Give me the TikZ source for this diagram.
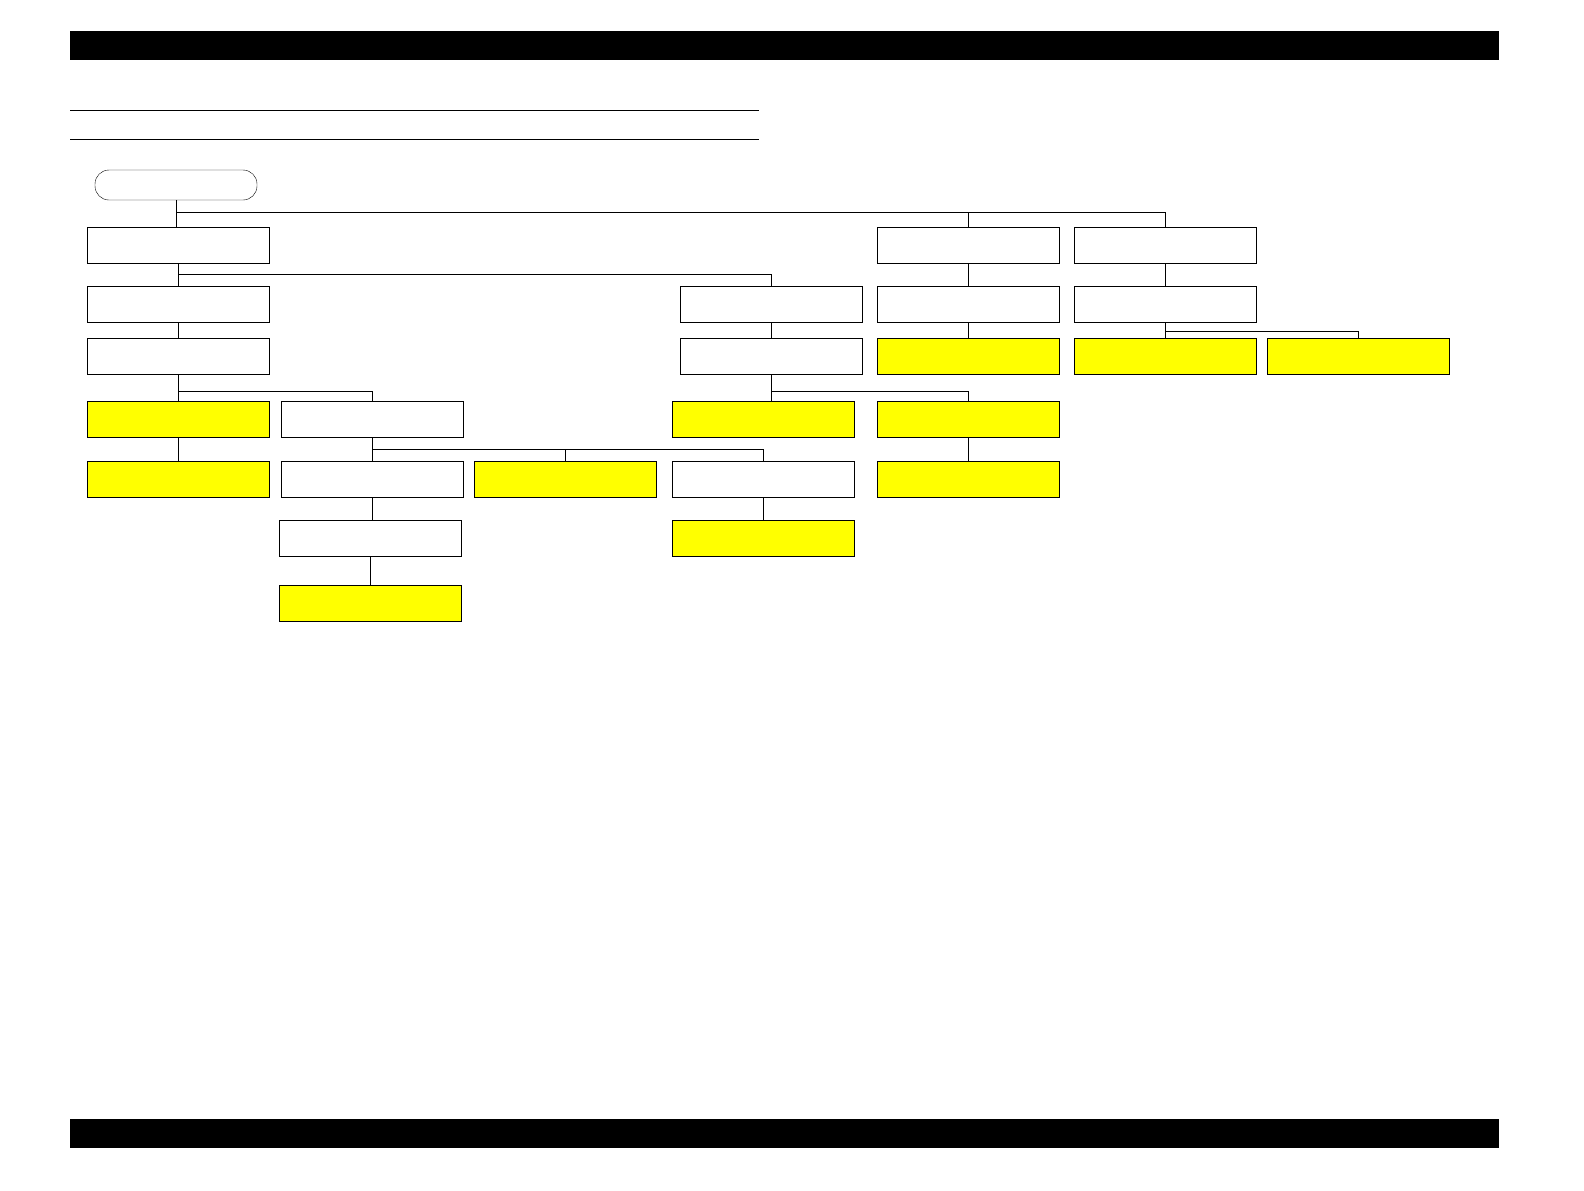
\documentclass[tikz,border=0pt]{standalone}
\definecolor{mark}{rgb}{1,1,0}
\begin{document}
\begin{tikzpicture}[x=1bp,y=-1bp,
  plain/.style={draw,line width=0.8pt,minimum width=182bp,minimum height=36bp,inner sep=0pt},
  hit/.style={plain,fill=mark},
  link/.style={line width=0.8pt}]
% page frame
\useasboundingbox (0,0) rectangle (1584,1190);
\fill (70,31) rectangle (1499,60);
\fill (70,1119) rectangle (1499,1148);
\draw (70,110) -- (759,110);
\draw (70,139) -- (759,139);

% root
\node[draw,rounded corners=14bp,minimum width=162bp,minimum height=30bp,inner sep=0pt] (root) at (176,185) {};

% left column
\node[plain] (a1) at (178,245.5) {};
\node[plain] (a2) at (178,304) {};
\node[plain] (a3) at (178,356.5) {};
\node[hit]   (a4) at (178,419) {};
\node[hit]   (a5) at (178,479.5) {};

% second column
\node[plain] (b1) at (372,419) {};
\node[plain] (b2) at (372,479.5) {};
\node[plain] (b3) at (370.5,538.5) {};
\node[hit]   (b4) at (370.5,603) {};
\node[hit]   (c1) at (565,479.5) {};

% middle column
\node[plain] (d1) at (771.5,304) {};
\node[plain] (d2) at (771.5,356.5) {};
\node[hit]   (d3) at (763,419) {};
\node[plain] (d4) at (763,479.5) {};
\node[hit]   (d5) at (763,538.5) {};
\node[hit]   (e1) at (968,419) {};
\node[hit]   (e2) at (968,479.5) {};

% right columns
\node[plain] (f1) at (968,245.5) {};
\node[plain] (f2) at (968,304) {};
\node[hit]   (f3) at (968,356.5) {};
\node[plain] (g1) at (1165.5,245.5) {};
\node[plain] (g2) at (1165.5,304) {};
\node[hit]   (g3) at (1165.5,356.5) {};
\node[hit]   (g4) at (1358.5,356.5) {};

% connectors
\draw[link] (root.south) -- (root.south |- a1.north);
\draw[link] ([yshift=-12bp]root.south) -| (f1.north);
\draw[link] ([yshift=-12bp]root.south) -| (g1.north);
\draw[link] (a1.south) -- (a2.north);
\draw[link] ([yshift=-10bp]a1.south) -| (d1.north);
\draw[link] (a2.south) -- (a3.north);
\draw[link] (a3.south) -- (a4.north);
\draw[link] ([yshift=-16bp]a3.south) -| (b1.north);
\draw[link] (a4.south) -- (a5.north);
\draw[link] (b1.south) -- (b2.north);
\draw[link] ([yshift=-12bp]b1.south) -| (c1.north);
\draw[link] ([yshift=-12bp]b1.south) -| (d4.north);
\draw[link] (b2.south) -- (b2.south |- b3.north);
\draw[link] (b3.south) -- (b4.north);
\draw[link] (d4.south) -- (d5.north);
\draw[link] (d1.south) -- (d2.north);
\draw[link] (d2.south) -- (d2.south |- d3.north);
\draw[link] ([yshift=-16bp]d2.south) -| (e1.north);
\draw[link] (e1.south) -- (e2.north);
\draw[link] (f1.south) -- (f2.north);
\draw[link] (f2.south) -- (f3.north);
\draw[link] (g1.south) -- (g2.north);
\draw[link] (g2.south) -- (g3.north);
\draw[link] ([yshift=-9bp]g2.south) -| (g4.north);
\end{tikzpicture}
\end{document}
